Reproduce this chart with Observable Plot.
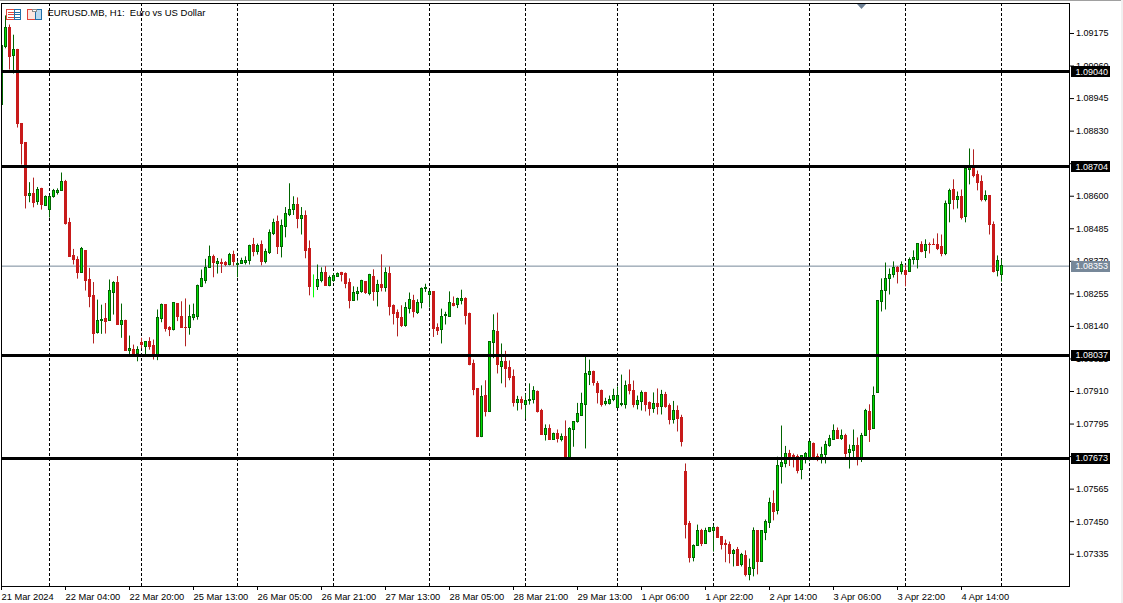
<!DOCTYPE html>
<html><head><meta charset="utf-8">
<script src="https://cdn.jsdelivr.net/npm/d3@7"></script>
<script src="https://cdn.jsdelivr.net/npm/@observablehq/plot@0.6"></script>
<style>
html,body{margin:0;padding:0;background:#fff;overflow:hidden}
#wrap{position:relative;width:1123px;height:603px;overflow:hidden}
#wrap svg.plot{position:absolute;left:0;top:0}
#deco{position:absolute;left:0;top:0;pointer-events:none}
</style></head><body><div id="wrap"><div id="chart"></div>
<svg id="deco" width="1123" height="603" xmlns="http://www.w3.org/2000/svg">
<rect x="0" y="0" width="1123" height="1" fill="#a0a0a0"/>
<rect x="1121" y="0" width="2" height="603" fill="#f0f0f0"/>
<polygon points="857,4 866,4 861.5,9" fill="#6d8095"/>
<g shape-rendering="crispEdges" fill="none" stroke-width="1">
<rect x="6.5" y="9.5" width="8" height="10" stroke="#e0443a" fill="#fff"/>
<path d="M8 12H14M8 14.5H14M8 17H14" stroke="#e0443a"/>
<rect x="14.5" y="9.5" width="6" height="10" stroke="#1f6fa8" fill="#fff"/>
<path d="M15 12H20M15 14.5H20M15 17H20" stroke="#1f6fa8"/>
<path d="M27.5 9.5H34V11H35V19.5H27.5Z" stroke="#e0443a" fill="#fde6e0"/>
<path d="M35.5 9.5H41.5V19.5H35.5Z" stroke="#1f6fa8" fill="#bcd8ee"/>
<rect x="32.5" y="9.5" width="4" height="2" stroke="#8a8a8a" fill="#fff"/>
</g></svg></div>
<script>
const highs=[109131,109237,109205,109169,109119,108857,108789,108648,108664,108631,
108628,108601,108601,108624,108626,108682,108656,108522,108412,108386,
108419,108407,108345,108295,108233,108215,108221,108304,108298,108316,
108219,108162,108106,108074,108068,108098,108086,108100,108092,108198,
108219,108215,108139,108221,108221,108227,108237,108215,108219,108286,
108339,108377,108424,108392,108380,108378,108369,108398,108406,108369,
108381,108386,108427,108451,108431,108442,108413,108481,108519,108530,
108516,108560,108644,108598,108594,108560,108548,108442,108322,108357,
108347,108351,108318,108326,108329,108331,108329,108308,108280,108278,
108303,108298,108324,108340,108303,108393,108347,108350,108216,108198,
108213,108224,108258,108250,108234,108276,108289,108263,108262,108149,
108201,108190,108262,108244,108240,108268,108241,108187,108021,107919,
107930,107948,108086,108181,108187,108078,108052,108018,107986,107893,
107891,107900,107937,107927,107912,107847,107792,107792,107763,107774,
107760,107806,107782,107803,107868,107904,108031,108021,107982,107945,
107915,107886,107894,107918,107926,107968,107947,107986,107947,107894,
107912,107907,107873,107905,107919,107914,107907,107866,107875,107859,
107826,107654,107451,107368,107438,107423,107427,107428,107437,107431,
107396,107385,107378,107352,107359,107338,107347,107318,107428,107416,
107416,107456,107533,107559,107678,107788,107716,107702,107689,107686,
107682,107694,107733,107728,107689,107713,107734,107755,107792,107781,
107774,107759,107721,107774,107746,107762,107847,107863,107926,108229,
108308,108364,108343,108368,108351,108368,108355,108382,108407,108433,
108439,108446,108435,108449,108467,108463,108583,108625,108658,108615,
108622,108699,108767,108764,108689,108672,108619,108601,108509,108389,108374];
const lows=[108922,109121,109046,109032,108841,108710,108555,108577,108559,108568,
108551,108565,108523,108593,108604,108617,108498,108385,108357,108307,
108327,108265,108206,108078,108113,108112,108113,108159,108180,108145,
108098,108053,108039,108033,108015,108061,108039,108056,108021,108019,
108153,108120,108104,108124,108157,108134,108068,108109,108160,108162,
108277,108290,108345,108312,108325,108327,108351,108354,108353,108312,
108360,108357,108357,108386,108392,108354,108361,108394,108461,108394,
108382,108453,108528,108532,108485,108463,108379,108248,108241,108267,
108294,108283,108280,108296,108313,108297,108273,108202,108230,108230,
108257,108253,108248,108229,108209,108262,108261,108177,108145,108103,
108136,108137,108184,108170,108182,108202,108260,108205,108101,108108,
108078,108145,108174,108209,108203,108216,108145,108001,107895,107747,
107747,107820,107836,108026,107972,107937,107923,107948,107855,107841,
107845,107812,107862,107866,107834,107756,107735,107739,107739,107728,
107732,107670,107672,107713,107798,107823,107707,107931,107929,107866,
107855,107859,107862,107874,107851,107856,107848,107898,107852,107845,
107841,107838,107823,107833,107827,107827,107851,107792,107795,107767,
107714,107389,107304,107308,107364,107362,107370,107411,107343,107391,
107350,107305,107301,107290,107292,107290,107255,107241,107255,107262,
107309,107383,107426,107453,107474,107583,107640,107645,107640,107619,
107598,107654,107662,107666,107662,107654,107654,107713,107739,107741,
107737,107674,107636,107670,107647,107659,107754,107730,107776,107903,
108191,108198,108251,108311,108290,108322,108280,108333,108357,108343,
108400,108380,108396,108426,108408,108386,108390,108506,108552,108555,
108516,108506,108640,108665,108619,108580,108580,108463,108329,108315,108297];
const opens=[108922,109128,109193,109096,109116,108855,108787,108602,108608,108579,
108624,108566,108552,108598,108612,108619,108650,108504,108389,108374,
108330,108406,108304,108247,108118,108159,108165,108160,108259,108293,
108146,108158,108054,108056,108041,108080,108068,108084,108071,108039,
108167,108214,108133,108128,108219,108172,108136,108135,108171,108175,
108280,108301,108348,108387,108361,108363,108363,108358,108392,108358,
108361,108365,108372,108426,108404,108428,108366,108401,108468,108509,
108419,108493,108535,108550,108568,108518,108529,108413,108282,108281,
108302,108329,108284,108301,108315,108328,108326,108293,108231,108255,
108261,108297,108256,108314,108263,108286,108277,108326,108213,108187,
108169,108143,108203,108229,108188,108221,108271,108252,108261,108134,
108129,108176,108175,108218,108214,108230,108237,108183,108006,107918,
107751,107893,107837,108081,108119,107998,108015,107992,107960,107871,
107879,107864,107878,107880,107908,107840,107758,107778,107740,107760,
107740,107749,107674,107775,107802,107825,107864,107970,107979,107937,
107911,107867,107866,107880,107853,107864,107864,107933,107912,107862,
107873,107905,107868,107848,107865,107855,107896,107859,107809,107841,
107815,107626,107442,107322,107364,107416,107371,107414,107418,107427,
107395,107370,107367,107336,107350,107297,107329,107262,107284,107416,
107309,107411,107447,107512,107489,107645,107655,107688,107681,107678,
107631,107674,107671,107725,107678,107675,107684,107718,107739,107770,
107742,107753,107694,107701,107718,107674,107754,107838,107779,107903,
108228,108266,108306,108320,108346,108334,108336,108334,108373,108376,
108427,108408,108427,108427,108427,108420,108396,108571,108621,108585,
108596,108528,108694,108701,108675,108651,108585,108601,108499,108335,108320];
const closes=[109131,109193,109093,109116,108855,108784,108602,108608,108577,108622,
108568,108597,108599,108617,108617,108649,108502,108386,108374,108330,
108412,108301,108245,108113,108158,108162,108157,108264,108293,108146,
108158,108054,108059,108041,108056,108074,108084,108069,108039,108168,
108214,108132,108127,108221,108172,108135,108134,108175,108179,108283,
108306,108348,108387,108365,108366,108361,108358,108391,108367,108360,
108370,108370,108425,108404,108425,108366,108402,108470,108505,108422,
108495,108536,108550,108568,108518,108529,108408,108281,108282,108303,
108328,108284,108311,108317,108324,108323,108291,108231,108257,108262,
108300,108258,108322,108263,108286,108274,108328,108207,108185,108168,
108142,108204,108233,108192,108222,108271,108275,108262,108132,108124,
108172,108180,108222,108213,108236,108236,108178,108004,107916,107751,
107890,107836,108084,108123,108002,108013,107990,107958,107871,107879,
107871,107875,107880,107911,107838,107756,107776,107739,107759,107742,
107748,107673,107778,107801,107829,107865,107971,107978,107940,107905,
107862,107873,107880,107894,107893,107866,107929,107912,107862,107875,
107905,107862,107848,107865,107855,107896,107854,107809,107840,107812,
107732,107438,107322,107363,107416,107371,107416,107427,107427,107392,
107368,107369,107336,107347,107294,107331,107262,107285,107416,107308,
107416,107448,107515,107486,107647,107656,107688,107680,107674,107629,
107681,107688,107731,107680,107675,107685,107720,107741,107770,107742,
107752,107689,107702,107716,107674,107752,107842,107774,107893,108229,
108264,108307,108322,108346,108334,108356,108323,108374,108381,108430,
108403,108427,108426,108426,108414,108396,108572,108618,108585,108596,
108523,108695,108707,108672,108647,108587,108600,108499,108333,108370,108353];
const levels=[1.09040,1.08704,1.08037,1.07673];
const lastPrice=1.08353;
const priceTicks=[1.09175,1.09060,1.08945,1.08830,1.08715,1.08600,1.08485,1.08370,1.08255,1.08140,1.08025,1.07910,1.07795,1.07680,1.07565,1.07450,1.07335];
const timeLabels=["21 Mar 2024","22 Mar 04:00","22 Mar 20:00","25 Mar 13:00","26 Mar 05:00","26 Mar 21:00","27 Mar 13:00","28 Mar 05:00","28 Mar 21:00","29 Mar 13:00","1 Apr 06:00","1 Apr 22:00","2 Apr 14:00","3 Apr 06:00","3 Apr 22:00","4 Apr 14:00"];
const timeTicks=timeLabels.map((_,k)=>k*16);
const daySeparators=[12,35,59,83,107,131,154,178,202,226,250];
const title="EURUSD.MB, H1:  Euro vs US Dollar";

const bars=opens.map((o,i)=>({i,open:o/1e5,close:closes[i]/1e5,high:highs[i]/1e5,low:lows[i]/1e5}));
const UP="#00dd00",UPD="#006400",DN="#c81a1a",DNW="#b22222",DOJI="#00ff00";
const wick=d=>d.close===d.open?DOJI:d.close>d.open?UPD:DNW;
const FONT='"Liberation Sans", Arial, sans-serif';
const fmt=d=>d.toFixed(5);

const plot=Plot.plot({
  width:1123,height:603,
  marginLeft:1,marginRight:54,marginTop:3,marginBottom:17,
  style:{fontFamily:FONT,fontSize:"9px",background:"transparent",color:"#000"},
  x:{type:"linear",domain:[0,267]},
  y:{type:"linear",domain:[1.07221,1.09281]},
  marks:[
    Plot.ruleX(daySeparators,{x:d=>d,stroke:"#000",strokeWidth:1,strokeDasharray:"3,2"}),
    Plot.ruleY([lastPrice],{y:d=>d,stroke:"#778899",strokeWidth:1}),
    Plot.ruleX(bars.filter(d=>d.high>d.low),{x:"i",y1:"low",y2:"high",stroke:wick,strokeWidth:1,clip:true}),
    Plot.rect(bars.filter(d=>d.close!==d.open),{
      x1:d=>d.i-0.25,x2:d=>d.i+0.25,y1:"open",y2:"close",
      fill:d=>d.close>d.open?UP:DN,stroke:d=>d.close>d.open?UPD:DN,strokeWidth:1,shapeRendering:"crispEdges",clip:true}),
    Plot.ruleY(levels,{y:d=>d,stroke:"#000",strokeWidth:3,shapeRendering:"crispEdges"}),
    Plot.frame({stroke:"#000",strokeWidth:1}),
    Plot.axisY({anchor:"right",ticks:priceTicks,tickFormat:fmt,tickSize:4,tickPadding:2.5,label:null}),
    Plot.axisX({anchor:"bottom",ticks:timeTicks,tickFormat:i=>timeLabels[i/16],tickSize:4,tickPadding:3,textAnchor:"start",label:null,fontSize:9.3}),
    Plot.ruleY(levels,{y:d=>d,x1:267.5,x2:277.25,stroke:"#000",strokeWidth:11,shapeRendering:"crispEdges"}),
    Plot.ruleY([lastPrice],{y:d=>d,x1:267.5,x2:277.25,stroke:"#778899",strokeWidth:11,shapeRendering:"crispEdges"}),
    Plot.text([...levels,lastPrice],{x:268.5,y:d=>d,text:fmt,textAnchor:"start",fill:"#fff"}),
    Plot.text([title],{frameAnchor:"top-left",dx:46,dy:6,text:d=>d,textAnchor:"start",lineAnchor:"top",fill:"#000",fontSize:9.5})
  ]
});
document.getElementById("chart").appendChild(plot);
</script></body></html>
